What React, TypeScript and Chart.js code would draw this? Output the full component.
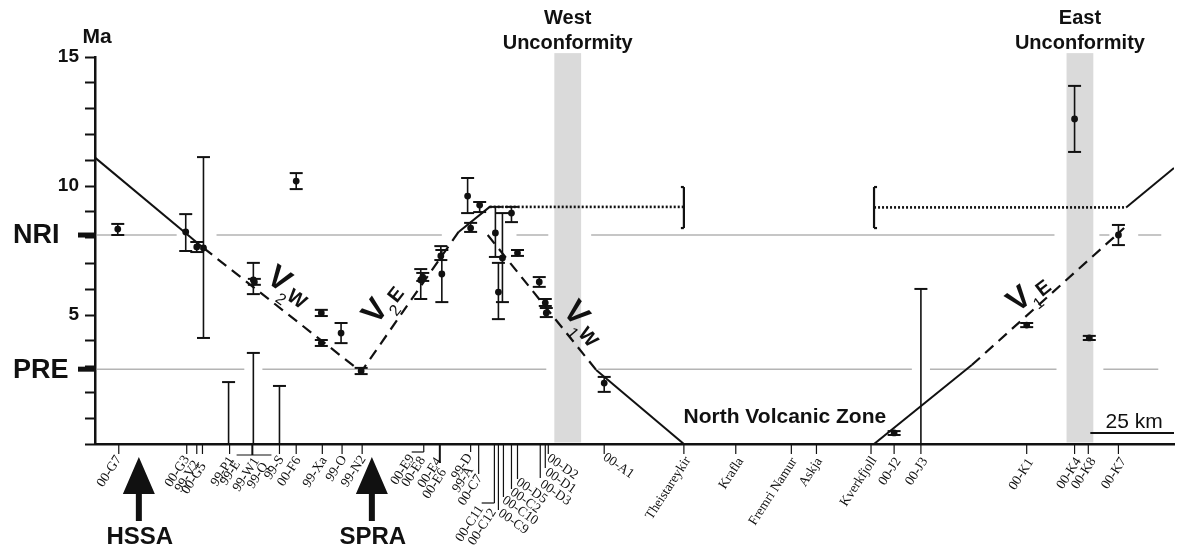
import React, { useEffect, useRef } from 'react';
import { Chart, registerables } from 'chart.js';
Chart.register(...registerables);

const SANS = '"Liberation Sans", Arial, Helvetica, sans-serif';
const SERIF = '"Liberation Serif", "Times New Roman", serif';
const INK = '#111';

// ---------- Data (x = km along profile, y = age in Ma) ----------
const X_MAX = 322.3;
const sampleKm = [6.8, 27.1, 30.4, 32.4, 47.3, 47.6, 60.1, 67.6, 67.6, 73.5, 79.5, 97.3, 97.9, 103.3, 103.6, 111.3, 114.9, 112.2, 119.6, 120.5, 121.7, 124.4, 126.2, 132.7, 134.5, 134.8, 152.1, 238.7, 278.3, 292.6, 297.0, 305.7];
const sampleAge = [8.33, 8.22, 7.64, 7.6, 6.36, 6.28, 10.19, 5.08, 3.91, 4.3, 2.83, 6.36, 6.47, 7.29, 6.59, 9.61, 9.26, 8.37, 8.18, 5.89, 7.21, 8.95, 7.4, 6.28, 5.47, 5.08, 2.36, 0.43, 4.61, 12.6, 4.11, 8.1];
const ageLow = [8.1, 7.48, 7.44, 4.11, 5.81, 6.17, 9.88, 4.96, 3.8, 3.91, 2.71, 5.62, 6.32, 7.13, 5.5, 8.95, 8.99, 8.22, 7.25, 4.84, 5.5, 8.6, 7.29, 6.09, 5.35, 4.92, 2.02, 0.35, 4.53, 11.32, 4.03, 7.71];
const ageHigh = [8.53, 8.91, 7.83, 11.12, 7.02, 6.4, 10.5, 5.2, 4.03, 4.69, 2.95, 6.78, 6.63, 7.67, 7.52, 10.31, 9.38, 8.57, 9.19, 7.02, 8.95, 9.19, 7.52, 6.47, 5.62, 5.27, 2.6, 0.5, 4.69, 13.88, 4.19, 8.49];

// samples with only a maximum age (range from 0)
const maxOnlyKm = [39.9, 47.3, 55.1, 246.7];
const maxOnlyAge = [2.4, 3.53, 2.25, 6.01];

// model trend lines
const trendSolid = [
  [[0, 11.1], [32.4, 7.6]],
  [[108.6, 8.22], [117.9, 9.19]],
  [[149.7, 2.87], [175.9, 0]],
  [[232.7, 0], [261.9, 3.06]],
  [[308.0, 9.17], [X_MAX, 10.7]],
];
const trendDashed = [
  [[32.4, 7.6], [79.5, 2.8], [108.6, 8.22]],
  [[117.3, 8.1], [149.7, 2.87]],
  [[261.9, 3.06], [307.4, 8.37]],
];
const trendDotted = [
  [[117.9, 9.19], [175.9, 9.19]],
  [[232.7, 9.17], [308.0, 9.17]],
];
const bracketKm = [175.9, 232.7];
const bracketAge = [8.37, 9.96];

// reference levels
const NRI_AGE = 8.1;
const PRE_AGE = 2.9;
const nriSpans = [[0.6, 24.4], [36.3, 103.6], [125.9, 135.4], [148.2, 286.6], [300.0, 303.0], [311.6, 318.5]];
const preSpans = [[0.6, 44.6], [50.0, 134.8], [150.3, 244.0], [249.4, 287.2], [301.2, 317.6]];

// unconformities
const unconfNames = ['West', 'East'];
const unconfKm = [[137.2, 145.2], [290.2, 298.2]];

// y-axis labels
const yLabelValues = [15, 10, 5];

// sample / locality labels on the profile
const xLabelNames = ['00-G7', '00-G3', '99-V2', '00-G5', '99-P1', '99-E', '99-W1', '99-Q', '99-S', '00-F6', '99-Xa', '99-O', '99-N2', '00-E9', '00-E8', '00-E4', '00-E6', '99-D', '99-A', '00-C7', '00-C11', '00-C12', '00-C9', '00-C10', '00-C2', '00-D5', '00-D3', '00-D1', '00-D2', '00-A1', 'Theistareykir', 'Krafla', 'Fremri Namur', 'Askja', 'Kverkfjoll', '00-J2', '00-J3', '00-K1', '00-K4', '00-K8', '00-K7'];
const xLabelKm = [7.1, 27.4, 30.4, 32.1, 40.2, 42.6, 48.2, 50.9, 55.1, 60.1, 67.9, 73.8, 79.8, 94.6, 98.2, 103.0, 103.0, 112.2, 112.2, 114.6, 115.2, 119.3, 120.5, 122.0, 124.4, 126.2, 133.0, 134.5, 135.4, 152.1, 175.9, 191.4, 208.0, 215.5, 231.8, 238.7, 246.7, 278.3, 292.6, 296.7, 305.7];

// ridge arrows
const ridgeNames = ['HSSA', 'SPRA'];
const ridgeKm = [13.1, 82.7];

// trend labels (V sub/sup)
const trendLabelText = [['2', 'W'], ['2', 'E'], ['1', 'W'], ['1', 'E']];
const trendLabelKm = [54.8, 83.9, 143.5, 276.2];
const trendLabelAge = [6.36, 5.12, 5.04, 5.58];

const SCALE_KM = 25;

// ---------- Layout / styling (not data) ----------
// [tick length px, anchor dx px, anchor dy px below axis, side] L = text ends at anchor (ccw), R = starts at anchor (cw)
const xLabelLayout: [number, number, number, string][] = [
  [10, 0, 13, 'L'], [10, 0, 13, 'L'], [10, 0, 18, 'L'], [10, 1, 20, 'L'], [10, 2, 14, 'L'],
  [0, 0, 18, 'L'], [0, 0, 15, 'L'], [0, 0, 20, 'L'], [10, 2, 13, 'L'], [10, 2, 14, 'L'],
  [10, 2, 14, 'L'], [10, 2, 13, 'L'], [10, 1, 13, 'L'], [0, 0, 12, 'L'], [0, -1, 14, 'L'],
  [0, -1, 15, 'L'], [0, 4, 26, 'L'], [8, -1, 11, 'L'], [0, 0, 24, 'L'], [30, 1, 32, 'L'],
  [0, 0, 63, 'L'], [0, -1, 66, 'L'], [66, 1, 68, 'R'], [53, 0, 55, 'R'], [45, 0, 47, 'R'],
  [35, 0, 37, 'R'], [34, 1, 39, 'R'], [24, 1, 27, 'R'], [10, 0, 13, 'R'], [10, 0, 12, 'R'],
  [10, 4, 14, 'L'], [10, 5, 15, 'L'], [10, 3, 15, 'L'], [10, 3, 15, 'L'], [10, 3, 14, 'L'],
  [10, 4, 15, 'L'], [10, 4, 15, 'L'], [10, 4, 16, 'L'], [10, 4, 15, 'L'], [10, 5, 15, 'L'], [10, 5, 15, 'L'],
];
const leaderKm = [[42.3, 52.7], [47.0, 47.0], [94.6, 98.2], [98.2, 98.2], [103.0, 103.0], [119.3, 119.3], [115.5, 119.3]];
const leaderDy = [[11, 11], [0, 11], [8, 8], [0, 8], [0, 19], [0, 59], [59, 59]];
const trendLabelRot = [35, -52, 50, -38];

function spansToData(spans: number[][], level: number) {
  const out: any[] = [];
  spans.forEach(([a, b]) => {
    out.push({ x: a, y: level }, { x: b, y: level }, { x: b, y: null });
  });
  return out;
}

const annotPlugin = {
  id: 'annot',
  beforeDatasetsDraw(chart: any) {
    const { ctx, scales: { x, y } } = chart;
    ctx.save();
    ctx.fillStyle = '#dadada';
    unconfKm.forEach(([a, b]) => {
      const x1 = x.getPixelForValue(a), x2 = x.getPixelForValue(b);
      const yt = y.getPixelForValue(15.15), yb = y.getPixelForValue(0) - 1.5;
      ctx.fillRect(x1, yt, x2 - x1, yb - yt);
    });
    ctx.restore();
  },
  afterDatasetsDraw(chart: any) {
    const { ctx, scales: { x, y } } = chart;
    ctx.save();
    ctx.strokeStyle = INK;
    const line = (x1: number, y1: number, x2: number, y2: number, w: number) => {
      ctx.lineWidth = w;
      ctx.beginPath(); ctx.moveTo(x1, y1); ctx.lineTo(x2, y2); ctx.stroke();
    };
    const CAP = 6.5;
    sampleKm.forEach((k, i) => {
      const cx = x.getPixelForValue(k);
      const yl = y.getPixelForValue(ageLow[i]);
      const yh = y.getPixelForValue(ageHigh[i]);
      line(cx, yl, cx, yh, 1.6);
      line(cx - CAP, yl, cx + CAP, yl, 2);
      line(cx - CAP, yh, cx + CAP, yh, 2);
    });
    maxOnlyKm.forEach((k, i) => {
      const cx = x.getPixelForValue(k);
      const y0 = y.getPixelForValue(0);
      const yh = y.getPixelForValue(maxOnlyAge[i]);
      line(cx, y0, cx, yh, 1.6);
      line(cx - CAP, yh, cx + CAP, yh, 2);
    });
    // brackets
    bracketKm.forEach((k, i) => {
      const cx = x.getPixelForValue(k);
      const y1 = y.getPixelForValue(bracketAge[0]);
      const y2 = y.getPixelForValue(bracketAge[1]);
      const dir = i === 0 ? -1 : 1;
      line(cx, y1, cx, y2, 2.2);
      line(cx, y1, cx + dir * 3, y1, 2.2);
      line(cx, y2, cx + dir * 3, y2, 2.2);
    });
    ctx.restore();
  },
  afterDraw(chart: any) {
    const { ctx, chartArea, scales: { x, y } } = chart;
    const axisY = y.getPixelForValue(0);
    const left = chartArea.left;
    ctx.save();
    ctx.fillStyle = INK;
    ctx.strokeStyle = INK;

    // "Ma"
    ctx.font = `bold 21px ${SANS}`;
    ctx.textAlign = 'center';
    ctx.textBaseline = 'middle';
    ctx.fillText('Ma', left + 2, y.getPixelForValue(15) - 20);

    // NRI / PRE
    [[NRI_AGE, 'NRI'], [PRE_AGE, 'PRE']].forEach(([v, t]: any) => {
      const yy = y.getPixelForValue(v);
      ctx.font = `bold 27px ${SANS}`;
      ctx.textAlign = 'left';
      ctx.textBaseline = 'middle';
      ctx.fillText(t, 13, yy + 1);
      ctx.fillRect(left - 17, yy - 2.5, 17, 5);
    });

    // Unconformity titles
    ctx.font = `bold 20px ${SANS}`;
    ctx.textAlign = 'center';
    unconfKm.forEach(([a, b], i) => {
      const cx = (x.getPixelForValue(a) + x.getPixelForValue(b)) / 2;
      ctx.fillText(unconfNames[i], cx, chartArea.top - 39);
      ctx.fillText('Unconformity', cx, chartArea.top - 14);
    });

    // North Volcanic Zone
    ctx.font = `bold 21px ${SANS}`;
    ctx.textAlign = 'left';
    ctx.fillText('North Volcanic Zone', x.getPixelForValue(175.8), y.getPixelForValue(1.03));

    // scale bar
    const sx1 = x.getPixelForValue(X_MAX - SCALE_KM), sx2 = x.getPixelForValue(X_MAX);
    ctx.lineWidth = 2;
    ctx.beginPath(); ctx.moveTo(sx1, axisY - 11); ctx.lineTo(sx2, axisY - 11); ctx.stroke();
    ctx.font = `21px ${SANS}`;
    ctx.textAlign = 'center';
    ctx.fillText(`${SCALE_KM} km`, (sx1 + sx2) / 2 + 2, axisY - 22);

    // trend labels
    trendLabelText.forEach(([d, l], i) => {
      const cx = x.getPixelForValue(trendLabelKm[i]);
      const cy = y.getPixelForValue(trendLabelAge[i]);
      ctx.save();
      ctx.translate(cx, cy);
      ctx.rotate((trendLabelRot[i] * Math.PI) / 180);
      ctx.textAlign = 'center';
      ctx.textBaseline = 'middle';
      ctx.font = `bold 32px ${SANS}`;
      ctx.fillText('V', 0, 0);
      ctx.font = `16px ${SANS}`;
      ctx.fillText(d, 13, 15);
      ctx.font = `bold 20px ${SANS}`;
      ctx.fillText(l, 26, 6);
      ctx.restore();
    });

    // ridge arrows
    ridgeNames.forEach((n, i) => {
      const cx = x.getPixelForValue(ridgeKm[i]);
      const tip = axisY + 13;
      ctx.beginPath();
      ctx.moveTo(cx, tip);
      ctx.lineTo(cx + 16, tip + 37);
      ctx.lineTo(cx + 3, tip + 37);
      ctx.lineTo(cx + 3, tip + 64);
      ctx.lineTo(cx - 3, tip + 64);
      ctx.lineTo(cx - 3, tip + 37);
      ctx.lineTo(cx - 16, tip + 37);
      ctx.closePath();
      ctx.fill();
      ctx.font = `bold 24px ${SANS}`;
      ctx.textAlign = 'center';
      ctx.textBaseline = 'middle';
      ctx.fillText(n, cx + 1, axisY + 93);
    });

    // sample leaders + labels
    leaderKm.forEach(([a, b], i) => {
      ctx.lineWidth = i === 1 || i === 4 ? 2 : 1.2;
      ctx.beginPath();
      ctx.moveTo(x.getPixelForValue(a), axisY + leaderDy[i][0]);
      ctx.lineTo(x.getPixelForValue(b), axisY + leaderDy[i][1]);
      ctx.stroke();
    });
    ctx.font = `13.5px ${SERIF}`;
    xLabelNames.forEach((name, i) => {
      const [t, dx, dy, side] = xLabelLayout[i];
      const tx = x.getPixelForValue(xLabelKm[i]);
      if (t > 0) {
        ctx.lineWidth = 1.2;
        ctx.beginPath(); ctx.moveTo(tx, axisY); ctx.lineTo(tx, axisY + t); ctx.stroke();
      }
      ctx.save();
      ctx.translate(tx + dx, axisY + dy);
      ctx.textBaseline = 'middle';
      if (side === 'L') {
        ctx.rotate((-57 * Math.PI) / 180);
        ctx.textAlign = 'right';
      } else {
        ctx.rotate((35 * Math.PI) / 180);
        ctx.textAlign = 'left';
      }
      ctx.fillText(name, 0, 0);
      ctx.restore();
    });
    ctx.restore();
  },
};

export default function App() {
  const ref = useRef<HTMLCanvasElement>(null);
  useEffect(() => {
    if (!ref.current) return;
    const datasets: any[] = [];
    datasets.push({
      data: sampleKm.map((k, i) => ({ x: k, y: sampleAge[i] })),
      showLine: false,
      pointRadius: 3.4,
      pointBackgroundColor: INK,
      pointBorderWidth: 0,
      order: 0,
    });
    const lineDs = (pts: number[][], dash: number[], width: number) => ({
      data: pts.map(([a, b]) => ({ x: a, y: b })),
      showLine: true,
      borderColor: INK,
      borderWidth: width,
      borderDash: dash,
      pointRadius: 0,
      fill: false,
      order: 5,
    });
    trendSolid.forEach((p) => datasets.push(lineDs(p, [], 2)));
    trendDashed.forEach((p) => datasets.push(lineDs(p, [11, 7], 2.2)));
    trendDotted.forEach((p) => datasets.push(lineDs(p, [2, 2], 2.6)));
    [[nriSpans, NRI_AGE], [preSpans, PRE_AGE]].forEach(([s, lv]: any) => {
      datasets.push({
        data: spansToData(s, lv),
        showLine: true,
        spanGaps: false,
        borderColor: '#b4b4b4',
        borderWidth: 1.5,
        pointRadius: 0,
        order: 10,
      });
    });

    const chart = new Chart(ref.current, {
      type: 'scatter',
      data: { datasets },
      plugins: [annotPlugin],
      options: {
        animation: false,
        responsive: false,
        devicePixelRatio: 1,
        events: [],
        layout: { padding: { left: 0, right: 0, top: 57, bottom: 105 } },
        plugins: { legend: { display: false }, tooltip: { enabled: false } },
        scales: {
          x: {
            type: 'linear',
            min: 0,
            max: X_MAX,
            afterFit: (s: any) => { s.height = 0; },
            ticks: { display: false },
            grid: { display: false, drawTicks: false },
            border: { display: true, color: INK, width: 2.5 },
          },
          y: {
            min: 0,
            max: 15,
            afterFit: (s: any) => { s.width = 95; },
            ticks: {
              stepSize: 1,
              autoSkip: false,
              padding: 6,
              color: INK,
              font: { family: SANS, size: 19, weight: 'bold' },
              callback: (v: any) => (yLabelValues.includes(v) ? String(v) : ''),
            },
            grid: { drawOnChartArea: false, drawTicks: true, tickLength: 10, tickWidth: 2, color: INK, tickColor: INK },
            border: { display: true, color: INK, width: 2.5 },
          },
        },
      } as any,
    });
    return () => chart.destroy();
  }, []);
  return (
    <div style={{ position: 'absolute', left: 0, top: 0, width: 1178, height: 549, background: '#fff' }}>
      <canvas ref={ref} width={1178} height={549} style={{ display: 'block' }} />
    </div>
  );
}
